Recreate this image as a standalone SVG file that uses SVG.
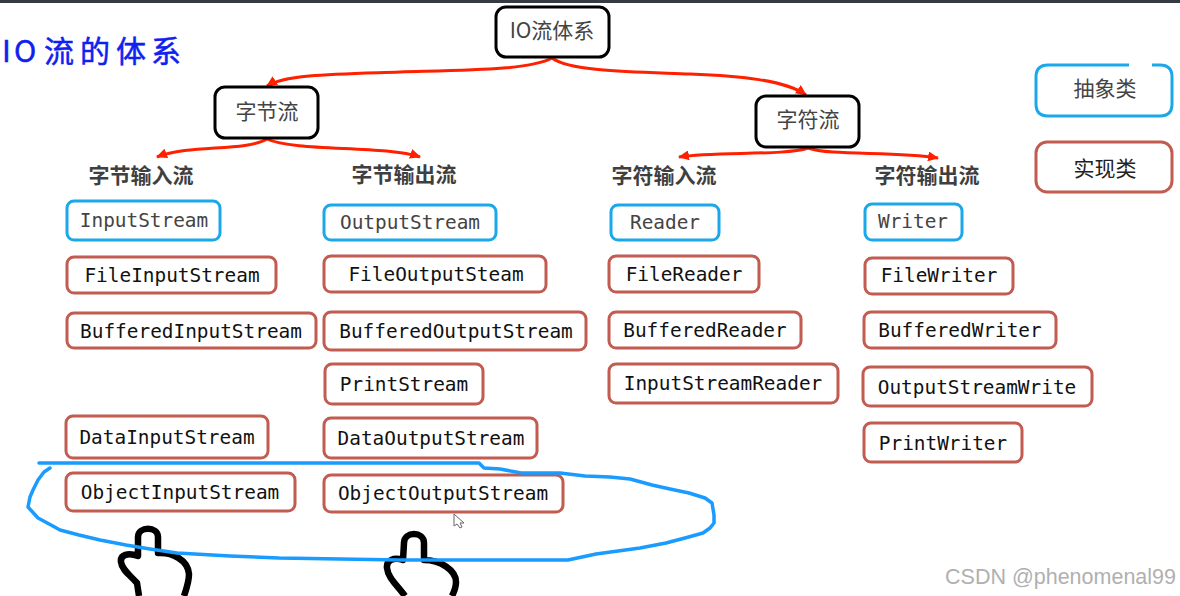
<svg xmlns="http://www.w3.org/2000/svg" width="1180" height="596" viewBox="0 0 1180 596">
<style>
.cjk{font-family:"Noto Sans CJK SC","Noto Sans",sans-serif;fill:#444;text-anchor:middle}
.h{font-size:21px;font-weight:700;fill:#3f3f3f}
.t{font-size:21px}
.m{font-family:"DejaVu Sans Mono","Liberation Mono","Noto Sans CJK SC",monospace;font-size:19.4px;fill:#111;text-anchor:middle}
.b{fill:#fff;stroke:#000;stroke-width:3}
.a{fill:#fff;stroke:#1ba7ea;stroke-width:3}
.r{fill:#fff;stroke:#c25b50;stroke-width:3}
.c{fill:none;stroke:#ff2000;stroke-width:3}
.s{fill:none;stroke:#1a9bff;stroke-width:3.5;stroke-linejoin:round;stroke-linecap:round}
.f{fill:#fff;stroke:#000;stroke-width:6.5;stroke-linejoin:round}
</style>
<defs><marker id="ah" markerUnits="userSpaceOnUse" markerWidth="12" markerHeight="10" refX="10" refY="5" orient="auto"><path d="M0 0L11 5L0 10Z" fill="#ff2000"/></marker></defs>
<rect width="1180" height="3" fill="#353b42"/>
<text x="2 14 44 80 116 151" y="62" font-family="Noto Sans CJK SC,sans-serif" font-size="30" fill="#1020f0" stroke="#1020f0" stroke-width="0.5">IO流的体系</text>
<g id="connectors">
<path class="c" marker-end="url(#ah)" d="M552 58C530 70 470 70 400 72C340 74 285 74 267 86"/>
<path class="c" marker-end="url(#ah)" d="M552 58C570 72 640 72 690 74C740 76 785 80 806 95"/>
<path class="c" marker-end="url(#ah)" d="M267 139C245 152 190 144 157 157"/>
<path class="c" marker-end="url(#ah)" d="M267 139C295 152 385 145 420 157"/>
<path class="c" marker-end="url(#ah)" d="M808 148C785 156 715 151 679 157"/>
<path class="c" marker-end="url(#ah)" d="M808 148C830 156 895 151 938 158"/>
</g>
<g id="root"><rect class="b" x="496" y="7" width="113" height="50" rx="10"/><text class="cjk t" x="552" y="38">IO流体系</text></g>
<g id="byte"><rect class="b" x="215" y="87" width="103" height="51" rx="10"/><text class="cjk t" x="267" y="119">字节流</text></g>
<g id="char"><rect class="b" x="756" y="96" width="103" height="51" rx="10"/><text class="cjk t" x="808" y="127">字符流</text></g>
<g id="legend-abstract"><path class="a" d="M1152 65H1160Q1172 65 1172 77V104Q1172 116 1160 116H1048Q1036 116 1036 104V77Q1036 65 1048 65H1129"/><text class="cjk t" x="1105" y="96">抽象类</text></g>
<g id="legend-impl"><rect class="r" x="1036" y="142" width="136" height="50" rx="11"/><text class="cjk t" x="1105" y="176" style="fill:#222">实现类</text></g>
<g id="h1"><text class="cjk h" x="141" y="183">字节输入流</text></g>
<g id="h2"><text class="cjk h" x="404" y="182">字节输出流</text></g>
<g id="h3"><text class="cjk h" x="664" y="183">字符输入流</text></g>
<g id="h4"><text class="cjk h" x="927" y="183">字符输出流</text></g>
<g id="n1"><rect class="a" x="67" y="201" width="153" height="39" rx="7"/><text class="m" x="144" y="227" style="fill:#444">InputStream</text></g>
<g id="n2"><rect class="r" x="67" y="257" width="209" height="36" rx="7"/><text class="m" x="172" y="282">FileInputStream</text></g>
<g id="n3"><rect class="r" x="67" y="313" width="249" height="35" rx="7"/><text class="m" x="191" y="338">BufferedInputStream</text></g>
<g id="n4"><rect class="r" x="66" y="416" width="202" height="42" rx="7"/><text class="m" x="167" y="444">DataInputStream</text></g>
<g id="n5"><rect class="r" x="66" y="473" width="229" height="38" rx="7"/><text class="m" x="180" y="499">ObjectInputStream</text></g>
<g id="n6"><rect class="a" x="324" y="205" width="172" height="35" rx="7"/><text class="m" x="410" y="229" style="fill:#444">OutputStream</text></g>
<g id="n7"><rect class="r" x="324" y="256" width="222" height="36" rx="7"/><text class="m" x="436" y="281">FileOutputSteam</text></g>
<g id="n8"><rect class="r" x="324" y="312" width="262" height="38" rx="7"/><text class="m" x="456" y="338">BufferedOutputStream</text></g>
<g id="n9"><rect class="r" x="325" y="364" width="158" height="40" rx="7"/><text class="m" x="404" y="391">PrintStream</text></g>
<g id="n10"><rect class="r" x="324" y="418" width="213" height="40" rx="7"/><text class="m" x="431" y="445">DataOutputStream</text></g>
<g id="n11"><rect class="r" x="324" y="475" width="239" height="37" rx="7"/><text class="m" x="443" y="500">ObjectOutputStream</text></g>
<g id="n12"><rect class="a" x="611" y="205" width="108" height="35" rx="7"/><text class="m" x="665" y="229" style="fill:#444">Reader</text></g>
<g id="n13"><rect class="r" x="609" y="256" width="150" height="36" rx="7"/><text class="m" x="684" y="281">FileReader</text></g>
<g id="n14"><rect class="r" x="609" y="312" width="192" height="36" rx="7"/><text class="m" x="705" y="337">BufferedReader</text></g>
<g id="n15"><rect class="r" x="609" y="364" width="229" height="39" rx="7"/><text class="m" x="723" y="390">InputStreamReader</text></g>
<g id="n16"><rect class="a" x="865" y="204" width="97" height="36" rx="7"/><text class="m" x="913" y="228" style="fill:#444">Writer</text></g>
<g id="n17"><rect class="r" x="865" y="258" width="148" height="36" rx="7"/><text class="m" x="939" y="282">FileWriter</text></g>
<g id="n18"><rect class="r" x="864" y="312" width="192" height="36" rx="7"/><text class="m" x="960" y="337">BufferedWriter</text></g>
<g id="n19"><rect class="r" x="863" y="367" width="229" height="39" rx="7"/><text class="m" x="977" y="394">OutputStreamWrite</text></g>
<g id="n20"><rect class="r" x="864" y="423" width="158" height="39" rx="7"/><text class="m" x="943" y="450">PrintWriter</text></g>
<path id="cursor" d="M454 514V526L457 524L460 528L462 527L460 523L464 523Z" fill="#fff" stroke="#666" stroke-width="1"/>
<g id="hand-1"><path class="f" d="M139 596L137 583C130 575 122 570 121 562C120 555 128 552 138 556L138 537C138 526 158 526 158 537V553C172 552 188 560 189 574C189 582 186 590 184 596"/></g>
<g id="hand-2"><path class="f" d="M405 596C397 585 388 578 387 568C386 560 394 557 403 560L404 543C404 531 424 531 424 543V560C440 560 456 570 456 582C456 588 454 592 452 596"/></g>
<g id="scribble"><path class="s" d="M39 463L441 463L479 463L484 468L500 469L521 473L560 473L585 476L610 477L630 479L652 485L670 489L689 493L705 498L712 503L714 515L714 523L710 528L703 533L685 538L666 543L640 548L596 554L568 560L520 560L465 560L400 560L340 559L279 558L230 556L177 553L150 549L126 545L100 540L79 535L60 530L51 525L38 518L28 507L30 497L33 490L38 480L44 472L50 468"/></g>
<text x="1176" y="584" font-family="Liberation Sans,sans-serif" font-size="21.5" fill="#b0b0b0" text-anchor="end">CSDN @phenomenal99</text>
</svg>
